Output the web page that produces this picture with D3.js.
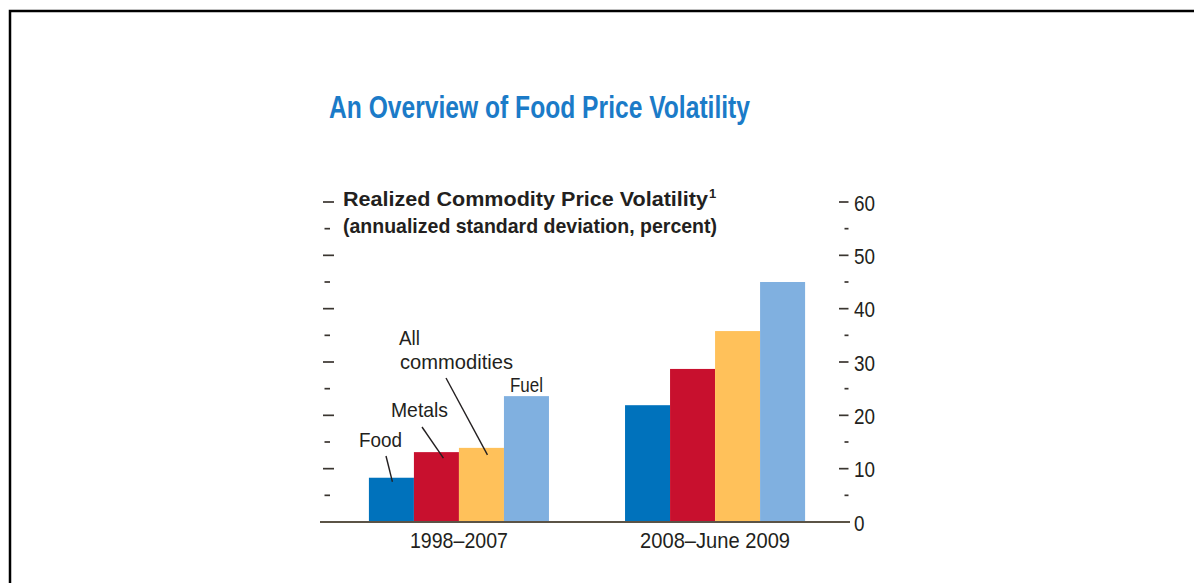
<!DOCTYPE html>
<html>
<head>
<meta charset="utf-8">
<script src="https://cdn.jsdelivr.net/npm/d3@7"></script>
<style>
  html, body { margin: 0; padding: 0; background: #fff; }
  svg { display: block; }
  text { font-family: "Liberation Sans", Arial, sans-serif; }
</style>
</head>
<body>
<svg id="chart" width="1194" height="583"></svg>
<script>
const periods = ["1998–2007", "2008–June 2009"];
const series = ["Food", "Metals", "All commodities", "Fuel"];
const food = [8.3, 21.9];
const metals = [13.1, 28.7];
const allCommodities = [13.9, 35.8];
const fuel = [23.6, 45.0];
const yTicks = [0, 10, 20, 30, 40, 50, 60];
const minorTicks = [5, 15, 25, 35, 45, 55];
const colors = ["#0072bc", "#c8102e", "#ffc15a", "#80b0e0"];

const seriesValues = [food, metals, allCommodities, fuel];
const data = periods.map((p, i) => ({ period: p, values: series.map((s, j) => ({ key: s, value: seriesValues[j][i] })) }));

const svg = d3.select("#chart");
const ink = "#231f20";

function fit(sel, w) { sel.attr("textLength", w).attr("lengthAdjust", "spacingAndGlyphs"); return sel; }

// frame
svg.append("path").attr("d", "M10,583V11H1194").attr("fill", "none").attr("stroke", "#000").attr("stroke-width", 2.5);

const y = d3.scaleLinear().domain([0, 60]).range([522, 202]);
const x0 = d3.scaleBand().domain(periods).range([331, 843]).paddingInner(0.297).paddingOuter(0.148);
const x1 = d3.scaleBand().domain(series).range([0, x0.bandwidth()]).padding(0);
const color = d3.scaleOrdinal().domain(series).range(colors);

// title
fit(svg.append("text").attr("x", 329).attr("y", 118).attr("fill", "#1b7bc8")
  .attr("font-size", 31).attr("font-weight", "bold").text("An Overview of Food Price Volatility"), 421);

// subtitle
fit(svg.append("text").attr("x", 343).attr("y", 206).attr("fill", ink)
  .attr("font-size", 20.5).attr("font-weight", "bold").text("Realized Commodity Price Volatility"), 365);
svg.append("text").attr("x", 709).attr("y", 198).attr("fill", ink)
  .attr("font-size", 13).attr("font-weight", "bold").text("1");
fit(svg.append("text").attr("x", 343).attr("y", 233).attr("fill", ink)
  .attr("font-size", 20.5).attr("font-weight", "bold").text("(annualized standard deviation, percent)"), 374);

// left ticks
const allTicks = yTicks.concat(minorTicks);
svg.append("g").selectAll("line").data(allTicks).join("line")
  .attr("x1", d => d % 10 === 0 ? 323 : 324.5)
  .attr("x2", d => d % 10 === 0 ? 334 : 330)
  .attr("y1", d => y(d)).attr("y2", d => y(d))
  .attr("stroke", "#3a3530").attr("stroke-width", 1.7);

// right axis
const rightAxis = d3.axisRight(y).tickValues(yTicks).tickSize(0).tickPadding(0).tickFormat(d3.format("d"));
const ra = svg.append("g").attr("transform", "translate(850,0)").call(rightAxis);
ra.select(".domain").remove();
ra.selectAll("text").attr("x", 4).attr("dy", "0.38em").attr("font-size", 21.5).attr("fill", ink)
  .attr("font-family", "Liberation Sans, Arial, sans-serif")
  .attr("textLength", d => String(d).length * 10.5).attr("lengthAdjust", "spacingAndGlyphs");
svg.append("g").selectAll("line").data(allTicks.filter(d => d > 0)).join("line")
  .attr("x1", d => d % 10 === 0 ? 839 : 844.5).attr("x2", 848.5)
  .attr("y1", d => y(d)).attr("y2", d => y(d))
  .attr("stroke", "#3a3530").attr("stroke-width", 1.7);

// bars
const groups = svg.append("g").selectAll("g").data(data).join("g")
  .attr("transform", d => `translate(${x0(d.period)},0)`);
groups.selectAll("rect").data(d => d.values).join("rect")
  .attr("x", d => x1(d.key)).attr("width", x1.bandwidth())
  .attr("y", d => y(d.value)).attr("height", d => y(0) - y(d.value))
  .attr("fill", d => color(d.key));

// baseline
svg.append("line").attr("x1", 320).attr("x2", 850).attr("y1", y(0)).attr("y2", y(0))
  .attr("stroke", "#5b5346").attr("stroke-width", 2);

// x labels
const labelWidths = [98, 150];
const bottomAxis = d3.axisBottom(x0).tickSize(0).tickPadding(0);
const ba = svg.append("g").attr("transform", `translate(0,${y(0)})`).call(bottomAxis);
ba.select(".domain").remove();
ba.selectAll("text").attr("y", 26).attr("dy", 0).attr("font-size", 22).attr("fill", ink)
  .attr("font-family", "Liberation Sans, Arial, sans-serif")
  .attr("textLength", (d, i) => labelWidths[i]).attr("lengthAdjust", "spacingAndGlyphs");

// annotations (first period)
const p0 = periods[0];
const cx = k => x0(p0) + x1(k) + x1.bandwidth() / 2;
const ann = svg.append("g").attr("fill", ink).attr("font-size", 21);
fit(ann.append("text").attr("x", 359).attr("y", 447).text("Food"), 43);
fit(ann.append("text").attr("x", 391).attr("y", 417).text("Metals"), 57);
fit(ann.append("text").attr("x", 399).attr("y", 345).text("All"), 21);
fit(ann.append("text").attr("x", 400).attr("y", 369).text("commodities"), 113);
fit(ann.append("text").attr("x", 510).attr("y", 392).text("Fuel"), 33);
const leaders = [
  [386, 456, cx("Food") + 1, y(food[0]) + 4],
  [422, 427, cx("Metals") + 7, y(metals[0]) + 6],
  [446, 378, cx("All commodities") + 6, y(allCommodities[0]) + 7]
];
svg.append("g").selectAll("line").data(leaders).join("line")
  .attr("x1", d => d[0]).attr("y1", d => d[1]).attr("x2", d => d[2]).attr("y2", d => d[3])
  .attr("stroke", ink).attr("stroke-width", 1.4);
</script>
</body>
</html>
